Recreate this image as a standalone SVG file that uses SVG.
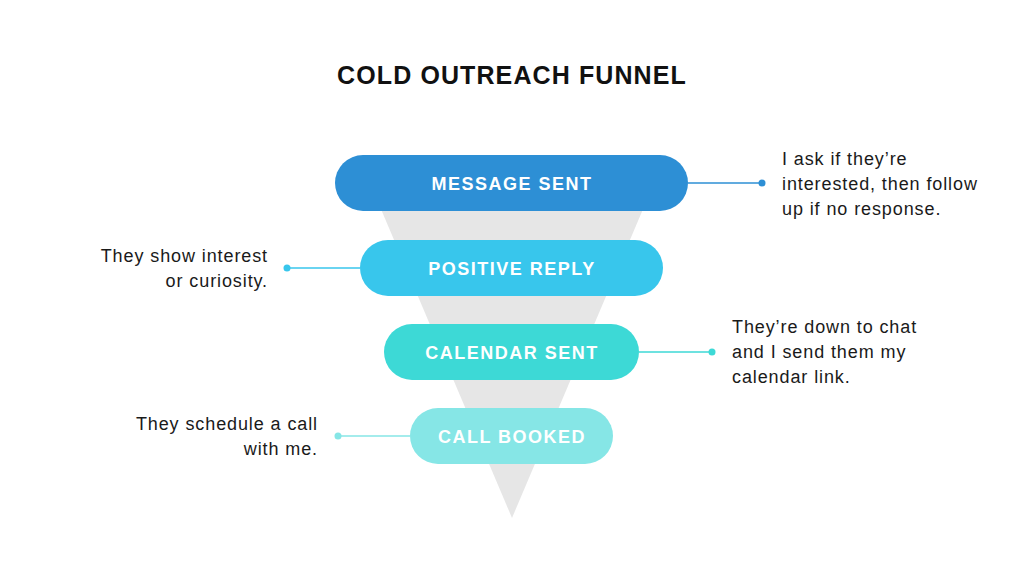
<svg xmlns="http://www.w3.org/2000/svg" width="1024" height="576" viewBox="0 0 1024 576">
<style>
.title{font-family:"Liberation Sans",Arial,sans-serif;font-weight:bold;font-size:25px;fill:#111;letter-spacing:1.1px}
.pill-text{font-family:"Liberation Sans",Arial,sans-serif;font-weight:bold;font-size:18px;fill:#fff;letter-spacing:1.5px}
.note{font-family:"Liberation Sans",Arial,sans-serif;font-size:18px;fill:#1a1a1a;letter-spacing:0.9px}
.ln{stroke-width:1.5;fill:none}
</style>
<rect width="1024" height="576" fill="#ffffff"/>
<text class="title" x="512" y="84" text-anchor="middle">COLD OUTREACH FUNNEL</text>
<polygon id="funnel" points="375,195 649,195 512,518" fill="#e6e6e6"/>
<g id="connectors">
<line class="ln" x1="688" y1="183" x2="762" y2="183" stroke="#2d8fd5"/>
<circle cx="762" cy="183" r="3.5" fill="#2d8fd5"/>
<line class="ln" x1="287" y1="268" x2="360" y2="268" stroke="#38c6ec"/>
<circle cx="287" cy="268" r="3.5" fill="#38c6ec"/>
<line class="ln" x1="639" y1="352" x2="712" y2="352" stroke="#3dd9d6"/>
<circle cx="712" cy="352" r="3.5" fill="#3dd9d6"/>
<line class="ln" x1="338" y1="436" x2="410" y2="436" stroke="#86e6e6"/>
<circle cx="338" cy="436" r="3.5" fill="#86e6e6"/>
</g>
<g id="message-sent">
<rect x="335" y="155" width="353" height="56" rx="28" fill="#2d8fd5"/>
<text class="pill-text" x="512" y="189.5" text-anchor="middle">MESSAGE SENT</text>
</g>
<g id="positive-reply">
<rect x="360" y="240" width="303" height="56" rx="28" fill="#38c6ec"/>
<text class="pill-text" x="512" y="274.5" text-anchor="middle">POSITIVE REPLY</text>
</g>
<g id="calendar-sent">
<rect x="384" y="324" width="255" height="56" rx="28" fill="#3dd9d6"/>
<text class="pill-text" x="512" y="358.5" text-anchor="middle">CALENDAR SENT</text>
</g>
<g id="call-booked">
<rect x="410" y="408" width="203" height="56" rx="28" fill="#86e6e6"/>
<text class="pill-text" x="512" y="442.5" text-anchor="middle">CALL BOOKED</text>
</g>
<g id="note-1">
<text class="note" x="782" y="165">I ask if they’re</text>
<text class="note" x="782" y="190">interested, then follow</text>
<text class="note" x="782" y="215">up if no response.</text>
</g>
<g id="note-2">
<text class="note" x="268" y="262" text-anchor="end">They show interest</text>
<text class="note" x="268" y="287" text-anchor="end">or curiosity.</text>
</g>
<g id="note-3">
<text class="note" x="732" y="333">They’re down to chat</text>
<text class="note" x="732" y="358">and I send them my</text>
<text class="note" x="732" y="383">calendar link.</text>
</g>
<g id="note-4">
<text class="note" x="318" y="430" text-anchor="end">They schedule a call</text>
<text class="note" x="318" y="455" text-anchor="end">with me.</text>
</g>
</svg>
